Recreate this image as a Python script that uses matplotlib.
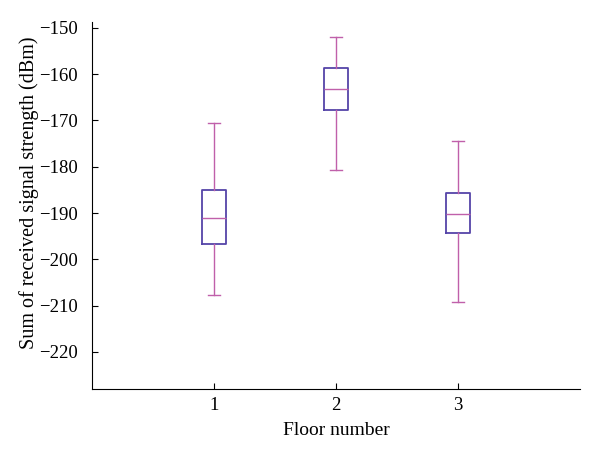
import matplotlib
matplotlib.use("Agg")
import matplotlib.pyplot as plt

floors = [1, 2, 3]
whislo = [-207.6, -180.7, -209.2]
q1 = [-196.7, -167.7, -194.4]
med = [-191.0, -163.2, -190.2]
q3 = [-185.0, -158.7, -185.7]
whishi = [-170.5, -151.9, -174.4]
yticks = [-220, -210, -200, -190, -180, -170, -160, -150]

plt.rcParams['font.family'] = ['Liberation Serif', 'DejaVu Serif']

box_col = '#5544a8'
line_col = '#c060aa'

stats = []
for i in range(len(floors)):
    stats.append({'whislo': whislo[i], 'q1': q1[i], 'med': med[i],
                  'q3': q3[i], 'whishi': whishi[i], 'fliers': []})

fig = plt.figure(figsize=(6, 4.55), dpi=100)
ax = fig.add_axes([0.153, 0.145, 0.814, 0.807])
ax.bxp(stats, positions=floors, widths=0.2, showfliers=False,
       boxprops=dict(color=box_col, linewidth=1.3),
       whiskerprops=dict(color=line_col, linewidth=1.0),
       capprops=dict(color=line_col, linewidth=1.0),
       medianprops=dict(color=line_col, linewidth=1.0),
       capwidths=0.1)

ax.set_xlim(0, 4)
ax.set_ylim(-228, -148.7)
ax.set_xticks(floors)
ax.set_xticklabels([str(f) for f in floors])
ax.set_yticks(yticks)
ax.set_yticklabels(['\u2212%d' % abs(v) for v in yticks])
ax.spines['top'].set_visible(False)
ax.spines['right'].set_visible(False)
ax.tick_params(direction='in', length=4, labelsize=13.5, width=0.8)
ax.tick_params(axis='y', pad=10)
ax.tick_params(axis='x', pad=6)
ax.set_xlabel('Floor number', fontsize=14)
ax.set_ylabel('Sum of received signal strength (dBm)', fontsize=14.5)
ax.yaxis.set_label_coords(-0.109, 0.534)
ax.xaxis.set_label_coords(0.5, -0.091)

fig.savefig('out.png', dpi=100)
